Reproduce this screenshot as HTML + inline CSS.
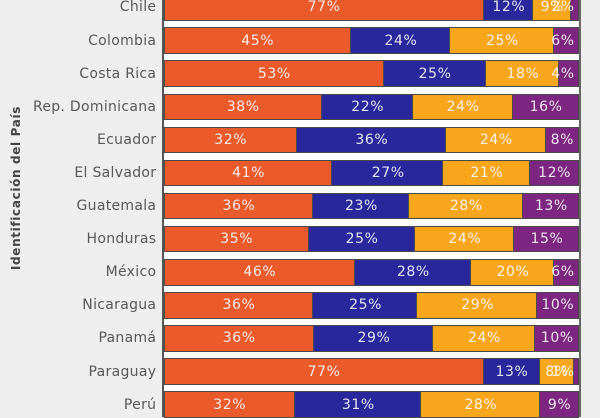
<!DOCTYPE html>
<html>
<head>
<meta charset="utf-8">
<style>
html,body{margin:0;padding:0}
body{width:600px;height:417px;overflow:hidden;background:#eeeeee;position:relative;font-family:"DejaVu Sans","Liberation Sans",sans-serif}
.plot{position:absolute;left:164px;top:0;width:415px;height:417px;background:#fff}
.axl{position:absolute;left:162px;top:0;width:2px;height:417px;background:#555}
.axr{position:absolute;left:579px;top:0;width:2px;height:417px;background:#666}
.row{position:absolute;left:164px;width:415px;height:26.5px;display:flex}
.row div{box-sizing:border-box;height:100%;border-top:1px solid #4a4a4a;border-bottom:1px solid #4a4a4a;border-right:1px solid #4a4a4a;flex:none}
.row div:first-child{border-left:1px solid #4a4a4a}
.o{background:#ea5a2b}.b{background:#28279b}.y{background:#f8a61c}.p{background:#7c2581}
.c{position:absolute;right:443.7px;height:20px;line-height:20px;font-size:14px;letter-spacing:0.3px;color:#585858;white-space:nowrap;text-align:right}
.l{position:absolute;width:80px;margin-left:-39.7px;height:20px;line-height:20px;font-size:14px;letter-spacing:0.6px;color:rgba(255,255,255,0.88);text-align:center;white-space:nowrap}
.r{position:absolute;right:25.4px;height:20px;line-height:20px;font-size:14px;letter-spacing:0.6px;color:rgba(255,255,255,0.88);text-align:right;white-space:nowrap}
.title{position:absolute;left:16px;top:188px;transform:translate(-50%,-50%) rotate(-90deg);font-weight:bold;font-size:12px;letter-spacing:0.65px;color:#444;white-space:nowrap}
</style>
</head>
<body>
<div class="plot"></div>

<div class="row" style="top:-5.8px"><div class="o" style="width:77%"></div><div class="b" style="width:12%"></div><div class="y" style="width:9%"></div><div class="p" style="width:2%"></div></div>
<div class="row" style="top:27.3px"><div class="o" style="width:45%"></div><div class="b" style="width:24%"></div><div class="y" style="width:25%"></div><div class="p" style="width:6%"></div></div>
<div class="row" style="top:60.4px"><div class="o" style="width:53%"></div><div class="b" style="width:24.5%"></div><div class="y" style="width:17.8%"></div><div class="p" style="width:4.7%"></div></div>
<div class="row" style="top:93.5px"><div class="o" style="width:38%"></div><div class="b" style="width:22%"></div><div class="y" style="width:24%"></div><div class="p" style="width:16%"></div></div>
<div class="row" style="top:126.6px"><div class="o" style="width:32%"></div><div class="b" style="width:36%"></div><div class="y" style="width:24%"></div><div class="p" style="width:8%"></div></div>
<div class="row" style="top:159.7px"><div class="o" style="width:40.6%"></div><div class="b" style="width:26.7%"></div><div class="y" style="width:20.8%"></div><div class="p" style="width:11.9%"></div></div>
<div class="row" style="top:192.8px"><div class="o" style="width:36%"></div><div class="b" style="width:23%"></div><div class="y" style="width:27.5%"></div><div class="p" style="width:13.5%"></div></div>
<div class="row" style="top:225.9px"><div class="o" style="width:34.9%"></div><div class="b" style="width:25.5%"></div><div class="y" style="width:24%"></div><div class="p" style="width:15.6%"></div></div>
<div class="row" style="top:259px"><div class="o" style="width:46%"></div><div class="b" style="width:28%"></div><div class="y" style="width:20%"></div><div class="p" style="width:6%"></div></div>
<div class="row" style="top:292.1px"><div class="o" style="width:36%"></div><div class="b" style="width:25%"></div><div class="y" style="width:29%"></div><div class="p" style="width:10%"></div></div>
<div class="row" style="top:325.2px"><div class="o" style="width:36.1%"></div><div class="b" style="width:28.8%"></div><div class="y" style="width:24.5%"></div><div class="p" style="width:10.6%"></div></div>
<div class="row" style="top:358.3px"><div class="o" style="width:77%"></div><div class="b" style="width:13.5%"></div><div class="y" style="width:8.2%"></div><div class="p" style="width:1.3%"></div></div>
<div class="row" style="top:391.4px"><div class="o" style="width:31.5%"></div><div class="b" style="width:30.5%"></div><div class="y" style="width:28.5%"></div><div class="p" style="width:9.5%"></div></div>

<div class="axl"></div>
<div class="axr"></div>

<div class="c" style="top:-2.55px">Chile</div>
<div class="c" style="top:30.55px">Colombia</div>
<div class="c" style="top:63.65px">Costa Rica</div>
<div class="c" style="top:96.75px">Rep. Dominicana</div>
<div class="c" style="top:129.85px">Ecuador</div>
<div class="c" style="top:162.95px">El Salvador</div>
<div class="c" style="top:196.05px">Guatemala</div>
<div class="c" style="top:229.15px">Honduras</div>
<div class="c" style="top:262.25px">México</div>
<div class="c" style="top:295.35px">Nicaragua</div>
<div class="c" style="top:328.45px">Panamá</div>
<div class="c" style="top:361.55px">Paraguay</div>
<div class="c" style="top:394.65px">Perú</div>

<div class="title">Identificación del País</div>

<div class="l" style="top:-2.55px;left:323.8px">77%</div>
<div class="l" style="top:-2.55px;left:508.5px">12%</div>
<div class="l" style="top:-2.55px;left:552px">9%</div>
<div class="r" style="top:-2.55px">2%</div>

<div class="l" style="top:30.55px;left:257.4px">45%</div>
<div class="l" style="top:30.55px;left:400.6px">24%</div>
<div class="l" style="top:30.55px;left:502.2px">25%</div>
<div class="r" style="top:30.55px">6%</div>

<div class="l" style="top:63.65px;left:274px">53%</div>
<div class="l" style="top:63.65px;left:434.8px">25%</div>
<div class="l" style="top:63.65px;left:522.6px">18%</div>
<div class="r" style="top:63.65px">4%</div>

<div class="l" style="top:96.75px;left:242.9px">38%</div>
<div class="l" style="top:96.75px;left:367.4px">22%</div>
<div class="l" style="top:96.75px;left:462.8px">24%</div>
<div class="l" style="top:96.75px;left:545.8px">16%</div>

<div class="l" style="top:129.85px;left:230.4px">32%</div>
<div class="l" style="top:129.85px;left:371.5px">36%</div>
<div class="l" style="top:129.85px;left:496px">24%</div>
<div class="l" style="top:129.85px;left:562px">8%</div>

<div class="l" style="top:162.95px;left:248.3px">41%</div>
<div class="l" style="top:162.95px;left:387.9px">27%</div>
<div class="l" style="top:162.95px;left:486.5px">21%</div>
<div class="l" style="top:162.95px;left:554.3px">12%</div>

<div class="l" style="top:196.05px;left:238.7px">36%</div>
<div class="l" style="top:196.05px;left:361.2px">23%</div>
<div class="l" style="top:196.05px;left:466px">28%</div>
<div class="l" style="top:196.05px;left:551px">13%</div>

<div class="l" style="top:229.15px;left:236.4px">35%</div>
<div class="l" style="top:229.15px;left:361.8px">25%</div>
<div class="l" style="top:229.15px;left:464.5px">24%</div>
<div class="l" style="top:229.15px;left:546.7px">15%</div>

<div class="l" style="top:262.25px;left:259.5px">46%</div>
<div class="l" style="top:262.25px;left:413px">28%</div>
<div class="l" style="top:262.25px;left:512.6px">20%</div>
<div class="r" style="top:262.25px">6%</div>

<div class="l" style="top:295.35px;left:238.7px">36%</div>
<div class="l" style="top:295.35px;left:365.3px">25%</div>
<div class="l" style="top:295.35px;left:477.4px">29%</div>
<div class="l" style="top:295.35px;left:557.5px">10%</div>

<div class="l" style="top:328.45px;left:238.9px">36%</div>
<div class="l" style="top:328.45px;left:373.6px">29%</div>
<div class="l" style="top:328.45px;left:484.2px">24%</div>
<div class="l" style="top:328.45px;left:557px">10%</div>

<div class="l" style="top:361.55px;left:323.8px">77%</div>
<div class="l" style="top:361.55px;left:511.6px">13%</div>
<div class="l" style="top:361.55px;left:556.6px">8%</div>
<div class="r" style="top:361.55px">1%</div>

<div class="l" style="top:394.65px;left:229.4px">32%</div>
<div class="l" style="top:394.65px;left:358px">31%</div>
<div class="l" style="top:394.65px;left:480.5px">28%</div>
<div class="l" style="top:394.65px;left:559.3px">9%</div>
</body>
</html>
